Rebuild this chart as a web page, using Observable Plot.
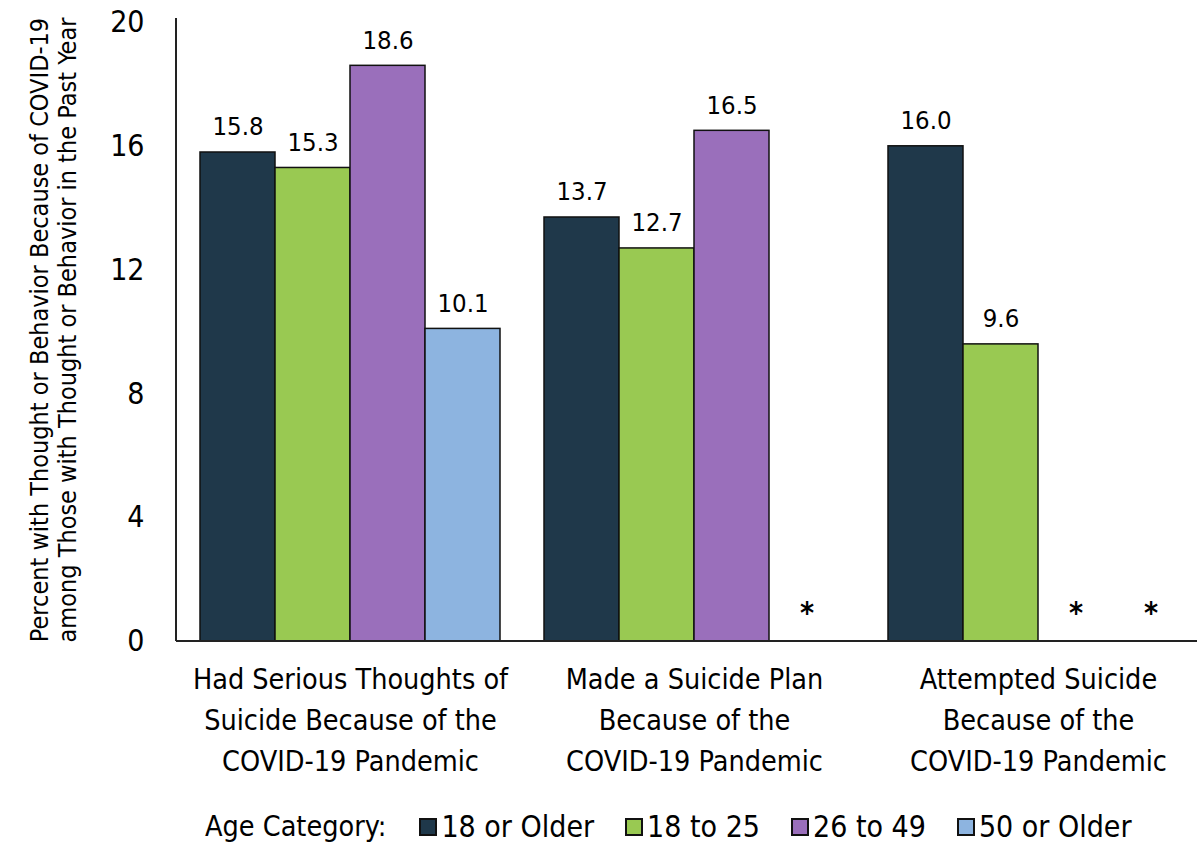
<!DOCTYPE html>
<html><head><meta charset="utf-8">
<script src="https://cdn.jsdelivr.net/npm/d3@7"></script>
<script src="https://cdn.jsdelivr.net/npm/@observablehq/plot@0.6"></script>
<style>
body{margin:0;background:#fff;font-family:"Liberation Sans Narrow","DejaVu Sans Condensed",Roboto,sans-serif;font-stretch:condensed;}
#legend{display:flex;align-items:center;height:37px;margin-top:18px;padding-left:205px;font-size:28.5px;color:#000;}
.item{display:flex;align-items:center;margin-left:31px;font-size:30px}
.sw{width:14px;height:14px;border:2px solid #111;margin-right:4px}
</style></head><body><div id="chart"></div><div id="legend"></div>
<script>
const groups = ["Had Serious Thoughts of\nSuicide Because of the\nCOVID-19 Pandemic","Made a Suicide Plan\nBecause of the\nCOVID-19 Pandemic","Attempted Suicide\nBecause of the\nCOVID-19 Pandemic"];
const ages = ["18 or Older","18 to 25","26 to 49","50 or Older"];
const colors = ["#1f384a","#99c952","#9a6fbb","#8db4e0"];
const seriousThoughts = [15.8,15.3,18.6,10.1];
const suicidePlan = [13.7,12.7,16.5,null];
const attempted = [16.0,9.6,null,null];
const yTicks = [0,4,8,12,16,20];
const legendTitle = "Age Category:";
const yTitle = ["Percent with Thought or Behavior Because of COVID-19","among Those with Thought or Behavior in the Past Year"];

const rows = [];
[seriousThoughts,suicidePlan,attempted].forEach((vals,gi)=>vals.forEach((v,ai)=>rows.push({group:groups[gi],age:ages[ai],value:v})));
const present = rows.filter(d=>d.value!=null);
const missing = rows.filter(d=>d.value==null);

const FONT = '"Liberation Sans Narrow","DejaVu Sans Condensed",Roboto,sans-serif';
const plot = Plot.plot({
  width:1197, height:790, marginTop:22, marginBottom:149, marginLeft:200, marginRight:0,
  style:{fontFamily:FONT, fontSize:"30px", color:"#000", background:"#fff"},
  fx:{domain:groups, paddingInner:0.128, paddingOuter:0.013, align:0, label:null},
  x:{domain:ages, padding:0, axis:null},
  y:{domain:[0,20], label:null},
  color:{domain:ages, range:colors},
  marks:[
    Plot.barY(present,{fx:"group",x:"age",y:"value",fill:"age",stroke:"#111",strokeWidth:1.5}),
    Plot.text(present,{fx:"group",x:"age",y:"value",text:d=>d.value.toFixed(1),lineAnchor:"bottom",dy:-17,fontSize:25.5}),
    Plot.text(missing,{fx:"group",x:"age",y:()=>0,text:()=>"*",lineAnchor:"bottom",dy:-19,fontSize:30,fontWeight:"bold"}),
    Plot.axisY({ticks:yTicks,tickSize:0,tickPadding:56,fontSize:30,label:null}),
    Plot.axisFx({anchor:"bottom",tickSize:0,tickPadding:19,fontSize:28.5,lineHeight:1.43,label:null})
  ]
});
document.getElementById("chart").appendChild(plot);

const svg = d3.select(plot);
const y = plot.scale("y");
const axisX = 176;
svg.append("line").attr("x1",axisX).attr("x2",axisX).attr("y1",y.apply(20)-4).attr("y2",y.apply(0)).attr("stroke","#222").attr("stroke-width",2);
svg.append("line").attr("x1",axisX).attr("x2",1197).attr("y1",y.apply(0)).attr("y2",y.apply(0)).attr("stroke","#222").attr("stroke-width",2);
const t = svg.append("text").attr("transform","translate(0,330) rotate(-90)").attr("text-anchor","middle").attr("font-size",25).attr("font-family",FONT).attr("fill","#000");
yTitle.forEach((s,i)=>t.append("tspan").attr("x",0).attr("y",48+28*i).text(s));

const leg = document.getElementById("legend");
const lt = document.createElement("span"); lt.textContent = legendTitle; lt.style.marginRight="2px"; leg.appendChild(lt);
ages.forEach((a,i)=>{
  const it=document.createElement("span"); it.className="item";
  const sw=document.createElement("span"); sw.className="sw"; sw.style.background=colors[i];
  const tx=document.createElement("span"); tx.textContent=a;
  it.appendChild(sw); it.appendChild(tx); leg.appendChild(it);
});
</script></body></html>
